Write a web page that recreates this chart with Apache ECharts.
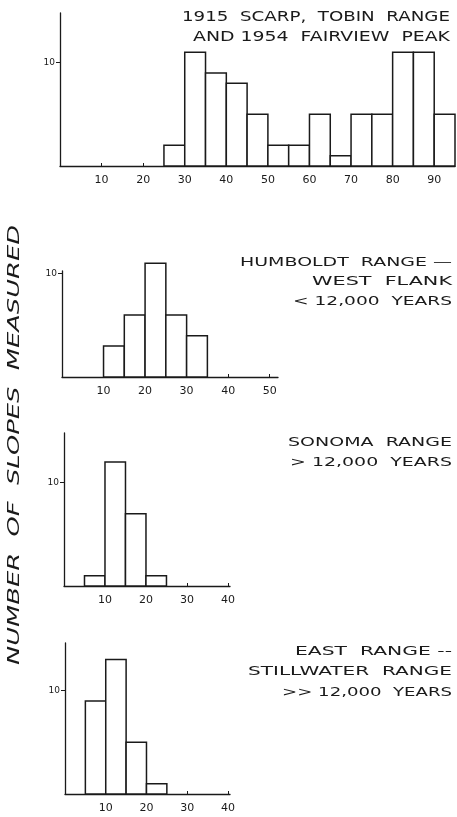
<!DOCTYPE html>
<html><head><meta charset="utf-8">
<script src="https://cdn.jsdelivr.net/npm/echarts@6/dist/echarts.min.js"></script>
<style>html,body{margin:0;padding:0;background:#fff}#c{width:457px;height:817px}</style>
</head><body><div id="c"></div>
<script>
// ---- data (bin start in degrees, bin width 5, counts) ----
const binWidth = 5;
const startsA = [25,30,35,40,45,50,55,60,65,70,75,80,85,90];
const countsA = [2,11,9,8,5,2,2,5,1,5,5,11,11,5];
const ticksA  = [10,20,30,40,50,60,70,80,90];

const startsB = [10,15,20,25,30];
const countsB = [3,6,11,6,4];
const ticksB  = [10,20,30,40,50];

const startsC = [5,10,15,20];
const countsC = [1,12,7,1];
const ticksC  = [10,20,30,40];

const startsD = [5,10,15,20];
const countsD = [9,13,5,1];
const ticksD  = [10,20,30,40];

const yTicks = [10];

const labelsA = ['1915  SCARP,  TOBIN  RANGE', 'AND 1954  FAIRVIEW  PEAK'];
const labelsB = ['HUMBOLDT  RANGE \u2014', 'WEST  FLANK', '< 12,000  YEARS'];
const labelsC = ['SONOMA  RANGE', '> 12,000  YEARS'];
const labelsD = ['EAST  RANGE --', 'STILLWATER  RANGE', '>> 12,000  YEARS'];
const yTitle = 'NUMBER  OF  SLOPES  MEASURED';

// ---- layout ----
const FONT = '"DejaVu Sans", sans-serif';
const INK = '#1a1a1a';
const panels = [
  {starts: startsA, counts: countsA, ticks: ticksA, grid: {left: 60, top: 13, width: 395, height: 153}, xMax: 95, yMax: 14.8},
  {starts: startsB, counts: countsB, ticks: ticksB, grid: {left: 62, top: 271, width: 216, height: 106}, xMax: 52, yMax: 10.25},
  {starts: startsC, counts: countsC, ticks: ticksC, grid: {left: 64, top: 433, width: 166, height: 153}, xMax: 40.5, yMax: 14.8},
  {starts: startsD, counts: countsD, ticks: ticksD, grid: {left: 65, top: 643, width: 165, height: 151}, xMax: 40.5, yMax: 14.6}
];

const textBlocks = [
  {lines: labelsA, right: 450, ys: [17, 37], lefts: [182, 193], size: 14},
  {lines: labelsB, right: 452, ys: [263, 282, 302], lefts: [240, 312, 293], size: 12},
  {lines: labelsC, right: 452, ys: [443, 463], lefts: [288, 290], size: 12},
  {lines: labelsD, right: 452, ys: [652, 672, 693], lefts: [295, 248, 282], size: 12}
];

const mctx = document.createElement('canvas').getContext('2d');
function measure(text, size, style) {
  mctx.font = (style || 'normal') + ' ' + size + 'px ' + FONT;
  return mctx.measureText(text).width;
}

const grids = [], xAxes = [], yAxes = [], series = [];
panels.forEach((p, i) => {
  grids.push(Object.assign({containLabel: false}, p.grid));
  xAxes.push({
    type: 'value', gridIndex: i, min: 0, max: p.xMax,
    axisLine: {show: true, onZero: false, lineStyle: {color: INK, width: 1.3}},
    axisTick: {show: true, inside: true, length: 3, customValues: p.ticks, lineStyle: {color: INK, width: 1}},
    axisLabel: {customValues: p.ticks, color: INK, fontSize: 11, fontFamily: FONT, margin: 9},
    splitLine: {show: false}
  });
  yAxes.push({
    type: 'value', gridIndex: i, min: 0, max: p.yMax,
    axisLine: {show: true, lineStyle: {color: INK, width: 1.3}},
    axisTick: {show: true, length: 4, customValues: yTicks, lineStyle: {color: INK, width: 1}},
    axisLabel: {customValues: yTicks, color: INK, fontSize: 9, fontFamily: FONT, margin: 5},
    splitLine: {show: false}
  });
  series.push({
    type: 'custom', xAxisIndex: i, yAxisIndex: i,
    data: p.starts.map((s, k) => [s, s + binWidth, p.counts[k]]),
    encode: {x: [0, 1], y: 2},
    renderItem: (params, api) => {
      const a = api.coord([api.value(0), api.value(2)]);
      const b = api.coord([api.value(1), 0]);
      return {type: 'rect', shape: {x: a[0], y: a[1], width: b[0] - a[0], height: b[1] - a[1]},
        style: {fill: '#fff', stroke: INK, lineWidth: 1.5}};
    }
  });
});

const graphics = [];
textBlocks.forEach(b => {
  b.lines.forEach((t, k) => {
    const w = measure(t, b.size);
    graphics.push({
      type: 'text', x: b.right, y: b.ys[k], scaleX: (b.right - b.lefts[k]) / w,
      style: {text: t, font: b.size + 'px ' + FONT, fill: INK, align: 'right', verticalAlign: 'middle'}
    });
  });
});
const ytw = measure(yTitle, 15, 'italic');
graphics.push({
  type: 'text', x: 15, y: 445, rotation: Math.PI / 2, scaleX: 440 / ytw,
  style: {text: yTitle, font: 'italic 15px ' + FONT, fill: INK, align: 'center', verticalAlign: 'middle'}
});

const chart = echarts.init(document.getElementById('c'), null, {renderer: 'canvas'});
chart.setOption({
  animation: false,
  backgroundColor: '#fff',
  grid: grids, xAxis: xAxes, yAxis: yAxes, series: series,
  graphic: graphics
});
</script></body></html>
